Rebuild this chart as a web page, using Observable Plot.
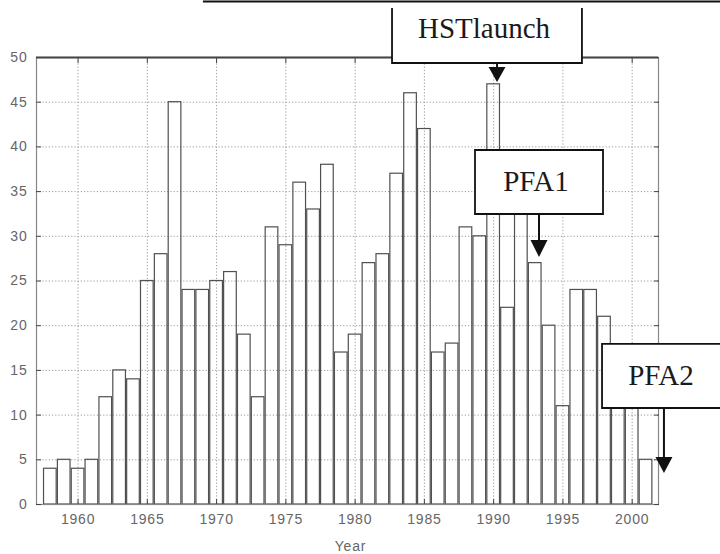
<!DOCTYPE html>
<html>
<head>
<meta charset="utf-8">
<script src="https://cdn.jsdelivr.net/npm/d3@7"></script>
<script src="https://cdn.jsdelivr.net/npm/@observablehq/plot@0.6"></script>
<style>
  html, body { margin: 0; padding: 0; background: #fff; }
</style>
</head>
<body>
<div id="chart"></div>
<script>
// ---- data ----
const years = [1958, 1959, 1960, 1961, 1962, 1963, 1964, 1965, 1966, 1967,
               1968, 1969, 1970, 1971, 1972, 1973, 1974, 1975, 1976, 1977,
               1978, 1979, 1980, 1981, 1982, 1983, 1984, 1985, 1986, 1987,
               1988, 1989, 1990, 1991, 1992, 1993, 1994, 1995, 1996, 1997,
               1998, 1999, 2000, 2001];
const counts = [4, 5, 4, 5, 12, 15, 14, 25, 28, 45,
                24, 24, 25, 26, 19, 12, 31, 29, 36, 33,
                38, 17, 19, 27, 28, 37, 46, 42, 17, 18,
                31, 30, 47, 22, 35, 27, 20, 11, 24, 24,
                21, 13, 12, 5];
const xTickLabels = [1960, 1965, 1970, 1975, 1980, 1985, 1990, 1995, 2000];
const yTickLabels = [0, 5, 10, 15, 20, 25, 30, 35, 40, 45, 50];
const annotationLabels = ["HSTlaunch", "PFA1", "PFA2"];
const annotationYears = [1990.28, 1993.31, 2002.33];

// ---- annotation layout (data units) ----
const annotationLayout = [
  {x1: 1982.70, x2: 1996.41, yTop: 55.48, yBottom: 49.33, yText: 52.1, headTop: 48.88, tip: 47.2, noTop: true},
  {x1: 1988.69, x2: 1997.93, yTop: 39.6, yBottom: 32.44, yText: 35.0, headTop: 29.53, tip: 27.63, noTop: false},
  {x1: 1997.86, x2: 2008.0, yTop: 17.9, yBottom: 10.74, yText: 13.31, headTop: 5.26, tip: 3.47, noTop: false}
];

const bars = years.map((year, i) => ({year, count: counts[i]}));
const gridXVals = xTickLabels;
const gridYVals = yTickLabels.filter(v => v > 0 && v < 50);

const chart = Plot.plot({
  width: 720,
  height: 554,
  marginLeft: 36,
  marginRight: 62,
  marginTop: 57,
  marginBottom: 50,
  style: {fontFamily: "'Liberation Sans', Arial, sans-serif", background: "#fff", letterSpacing: "0.8px"},
  x: {type: "linear", domain: [1957, 2001.9], axis: null},
  y: {domain: [0, 50], axis: null},
  marks: [
    Plot.gridX(gridXVals, {stroke: "#9a9a9a", strokeOpacity: 1, strokeDasharray: "1.2,2"}),
    Plot.gridY(gridYVals, {stroke: "#9a9a9a", strokeOpacity: 1, strokeDasharray: "1.2,2"}),
    Plot.rectY(bars, {
      x1: d => d.year - 0.5, x2: d => d.year + 0.5, y: "count",
      fill: "none", stroke: "#505050", strokeWidth: 1.2, insetLeft: 0.6, insetRight: 0.6
    }),
    Plot.frame({stroke: "#888", strokeWidth: 1.2}),
    Plot.ruleY([50], {stroke: "#444", strokeWidth: 2}),
    Plot.axisX(xTickLabels, {anchor: "bottom", tickSize: -5, text: null, stroke: "#444", label: null}),
    Plot.axisX(xTickLabels, {anchor: "top", tickSize: -5, text: null, stroke: "#444", label: null}),
    Plot.axisY(yTickLabels, {anchor: "left", tickSize: -5, text: null, stroke: "#444", label: null}),
    Plot.axisY(yTickLabels, {anchor: "right", tickSize: -5, text: null, stroke: "#444", label: null}),
    Plot.axisX(xTickLabels, {anchor: "bottom", tickSize: 0, tickPadding: 10, fontSize: 14, fill: "#666", label: null, tickFormat: d => String(d)}),
    Plot.axisY(yTickLabels, {anchor: "left", tickSize: 0, tickPadding: 9, fontSize: 14, fill: "#666", label: null}),
    Plot.text(["Year"], {frameAnchor: "bottom", dx: 3, dy: 42, fontSize: 14, fill: "#666", lineAnchor: "middle"})
  ]
});

document.getElementById("chart").appendChild(chart);

// ---- annotation layer, positioned through the plot's own scales ----
const sx = chart.scale("x"), sy = chart.scale("y");
const X = v => sx.apply(v), Y = v => sy.apply(v);
const svg = d3.select(chart);
const g = svg.append("g").attr("class", "annotations");

// cropped box edge at the very top of the picture
g.append("line")
  .attr("x1", X(1969.05)).attr("x2", 720)
  .attr("y1", Y(56.2)).attr("y2", Y(56.2))
  .attr("stroke", "#111").attr("stroke-width", 2);

annotationLayout.forEach((a, i) => {
  const x1 = X(a.x1), x2 = X(a.x2), yT = Y(a.yTop), yB = Y(a.yBottom);
  g.append("rect")
    .attr("x", x1).attr("y", yT).attr("width", x2 - x1).attr("height", yB - yT)
    .attr("fill", "#fff").attr("stroke", "none");
  const p = a.noTop
    ? `M${x1},${yT}V${yB}H${x2}V${yT}`
    : `M${x1},${yT}V${yB}H${x2}V${yT}Z`;
  g.append("path").attr("d", p).attr("fill", "none").attr("stroke", "#111").attr("stroke-width", 1.8);
  const ax = X(annotationYears[i]);
  g.append("text")
    .attr("x", (x1 + Math.min(x2, 720)) / 2 + (i === 2 ? 0 : -3))
    .attr("y", Y(a.yText))
    .attr("text-anchor", "middle")
    .attr("font-family", "'Liberation Serif', 'Times New Roman', serif")
    .attr("font-size", 29)
    .attr("letter-spacing", "0")
    .attr("fill", "#1a1a1a")
    .text(annotationLabels[i]);
  g.append("line")
    .attr("x1", ax).attr("x2", ax)
    .attr("y1", yB).attr("y2", Y(a.headTop) + 1)
    .attr("stroke", "#111").attr("stroke-width", 2);
  const ht = Y(a.headTop), tp = Y(a.tip);
  g.append("path")
    .attr("d", `M${ax - 8.5},${ht}L${ax + 8.5},${ht}L${ax},${tp}Z`)
    .attr("fill", "#111");
});
</script>
</body>
</html>
